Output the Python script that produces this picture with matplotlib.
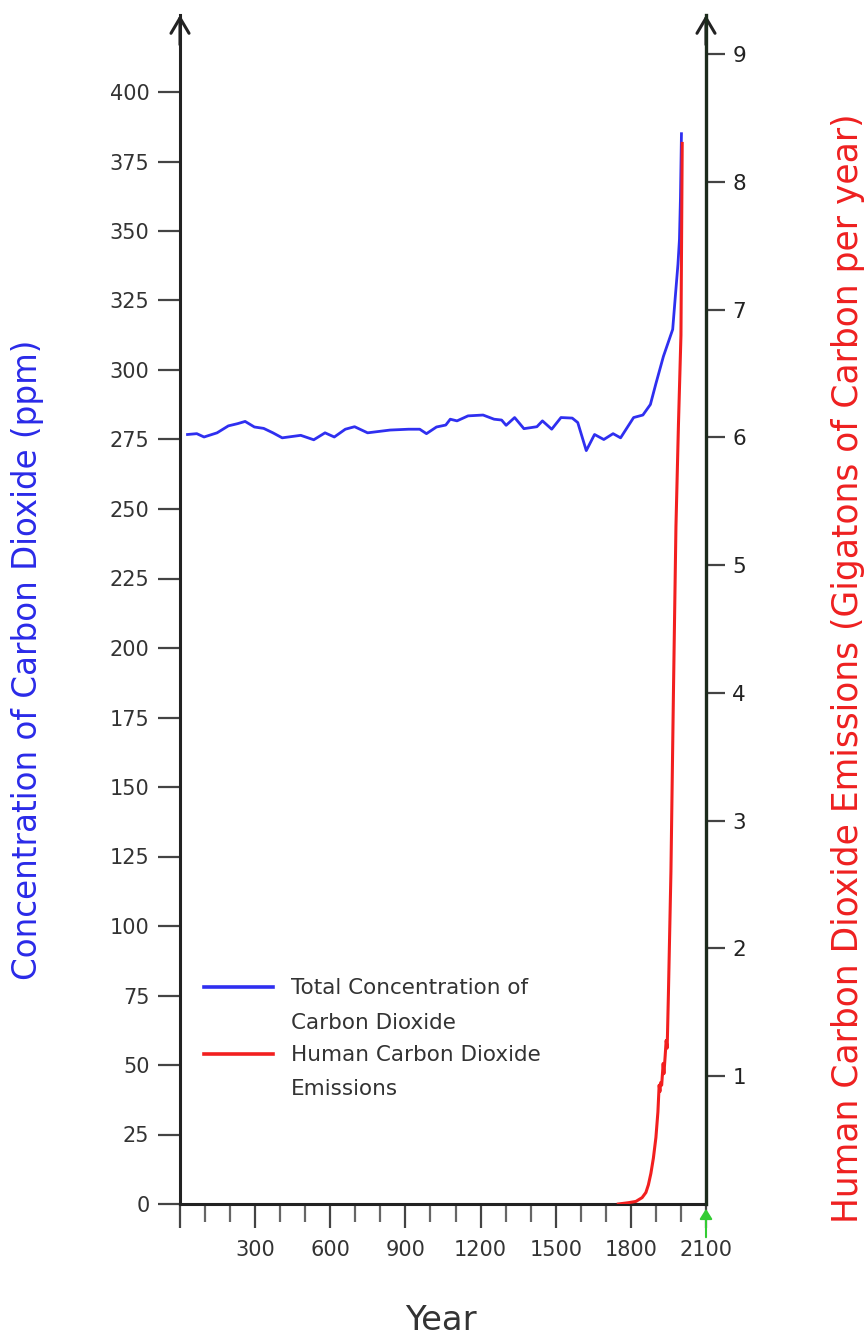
import matplotlib
matplotlib.use("Agg")
import numpy as np
import matplotlib.pyplot as plt
from matplotlib.ticker import MultipleLocator, FixedLocator
from matplotlib.legend_handler import HandlerLine2D

# ---------------- data ----------------
co2_years = [30, 67, 96, 148, 193, 230, 260, 297, 334, 371, 408, 482, 534, 579, 616,
             660, 697, 749, 839, 913, 957, 984, 1024, 1061, 1079, 1106, 1150, 1210,
             1254, 1284, 1302, 1336, 1373, 1425, 1447, 1484, 1521, 1566, 1588, 1622,
             1655, 1692, 1729, 1759, 1811, 1848, 1878, 1900, 1930, 1967, 1978, 1988,
             1994, 1998, 2002]
co2_ppm = [276.8, 277.1, 275.9, 277.4, 279.9, 280.7, 281.5, 279.5, 279.0, 277.4, 275.6,
           276.5, 274.9, 277.4, 275.9, 278.7, 279.6, 277.4, 278.4, 278.7, 278.7, 277.1,
           279.5, 280.2, 282.3, 281.7, 283.5, 283.8, 282.3, 282.0, 280.1, 282.9, 278.9,
           279.6, 281.7, 278.7, 282.9, 282.7, 281.1, 271.0, 276.8, 275.0, 277.1, 275.6,
           282.9, 283.8, 287.6, 295.1, 304.9, 314.6, 327.0, 338.0, 347.0, 362.0, 385.0]

em_years = [1750, 1790, 1820, 1845, 1860, 1870, 1880, 1890, 1900, 1908, 1913, 1916,
            1919, 1923, 1929, 1932, 1937, 1941, 1945, 1950, 1960, 1970, 1980, 1990,
            2000, 2005]
em_gtc = [0.0, 0.01, 0.02, 0.05, 0.09, 0.15, 0.24, 0.36, 0.52, 0.72, 0.93, 0.88,
          0.95, 0.93, 1.10, 1.02, 1.16, 1.28, 1.22, 1.65, 2.60, 4.00, 5.30, 6.10,
          6.80, 8.30]

x_major = [0, 300, 600, 900, 1200, 1500, 1800, 2100]
x_labels = ["", "300", "600", "900", "1200", "1500", "1800", "2100"]
left_ticks = list(range(0, 401, 25))
right_ticks = [1, 2, 3, 4, 5, 6, 7, 8, 9]

label_left = "Concentration of Carbon Dioxide (ppm)"
label_right = "Human Carbon Dioxide Emissions (Gigatons of Carbon per year)"
label_x = "Year"
legend_labels = ["Total Concentration of\nCarbon Dioxide",
                 "Human Carbon Dioxide\nEmissions"]

# ---------------- figure ----------------
W, H = 865, 1337
DPI = 100
fig = plt.figure(figsize=(W / DPI, H / DPI), dpi=DPI)
fig.patch.set_facecolor("white")

ax_l, ax_r = 180, 706
ax_b, ax_t = 1204, 15
ax = fig.add_axes([ax_l / W, (H - ax_b) / H, (ax_r - ax_l) / W, (ax_b - ax_t) / H])
ax.set_facecolor("none")

px_per_ppm = (1204 - 92) / 400.0
ax.set_ylim(0, (ax_b - ax_t) / px_per_ppm)
ax.set_xlim(0, 2100)

axis_col = "#222222"
tick_col = "#444444"
txt_col = "#333333"
blue = "#2f2ff0"
red = "#f21f1f"

for s in ["top", "right"]:
    ax.spines[s].set_visible(False)
for s in ["left", "bottom"]:
    ax.spines[s].set_color(axis_col)
    ax.spines[s].set_linewidth(2.2)

ax.yaxis.set_major_locator(FixedLocator(left_ticks))
ax.tick_params(axis="y", direction="out", length=16, width=1.6, color=tick_col,
               labelsize=15, labelcolor=txt_col, pad=6)
ax.xaxis.set_major_locator(FixedLocator(x_major))
ax.set_xticklabels(x_labels)
ax.xaxis.set_minor_locator(MultipleLocator(100))
ax.tick_params(axis="x", which="major", direction="out", length=17, width=1.6,
               color=tick_col, labelsize=15, labelcolor=txt_col, pad=9)
ax.tick_params(axis="x", which="minor", direction="out", length=13, width=1.6,
               color="#666666")

(l1,) = ax.plot(co2_years, co2_ppm, color=blue, lw=2.0, solid_joinstyle="round")

# right axis
axr = ax.twinx()
axr.set_facecolor("none")
px_per_unit = (1204 - 54) / 9.0
axr.set_ylim(0, (ax_b - ax_t) / px_per_unit)
for s in ["top", "left", "bottom"]:
    axr.spines[s].set_visible(False)
axr.spines["right"].set_color("#1c2b1c")
axr.spines["right"].set_linewidth(2.4)
axr.yaxis.set_major_locator(FixedLocator(right_ticks))
axr.tick_params(axis="y", direction="out", length=14, width=1.6, color=tick_col,
                labelsize=15.5, labelcolor="#222222", pad=5)
(l2,) = axr.plot(em_years, em_gtc, color=red, lw=2.2, solid_joinstyle="round")

# arrowheads on y axes
for xf in (0.0, 1.0):
    ax.annotate("", xy=(xf, 1.0), xycoords="axes fraction",
                xytext=(xf, 0.975), textcoords="axes fraction",
                arrowprops=dict(arrowstyle="->,head_length=1.1,head_width=0.65",
                                lw=2.2, color=axis_col, shrinkA=0, shrinkB=0),
                annotation_clip=False)

# small green marker at right end of x axis
fig.add_artist(matplotlib.patches.FancyArrowPatch(
    (ax_r / W, (H - 1240) / H), (ax_r / W, (H - 1206) / H),
    transform=fig.transFigure, arrowstyle="-|>,head_length=4,head_width=2.5",
    color="#33cc33", lw=1.5, mutation_scale=1.5))

# labels
tl = fig.text(28 / W, (H - 660) / H, label_left, rotation=90, color="#2a2ae8",
              ha="center", va="center", fontsize=20)
tr = fig.text(848 / W, (H - 668) / H, label_right, rotation=90, color="#ee2020",
              ha="center", va="center", fontsize=20)
tx = fig.text(441 / W, (H - 1320) / H, label_x, color=txt_col, ha="center",
              va="center", fontsize=22)


class TopLineHandler(HandlerLine2D):
    """Legend line aligned with the first text line of a two-line label."""
    shift_pt = 13.5

    def create_artists(self, legend, orig_handle, xdescent, ydescent, width,
                       height, fontsize, trans):
        arts = super().create_artists(legend, orig_handle, xdescent, ydescent,
                                      width, height, fontsize, trans)
        for a in arts:
            a.set_ydata(np.asarray(a.get_ydata(), dtype=float) + self.shift_pt)
        return arts


leg = ax.legend([l1, l2], legend_labels, loc="upper left",
                bbox_to_anchor=(204 / W, (H - 978) / H),
                bbox_transform=fig.transFigure, frameon=False, fontsize=15.5,
                handlelength=3.2, handletextpad=0.85, labelspacing=0.55,
                borderaxespad=0, borderpad=0,
                handler_map={l1: TopLineHandler(), l2: TopLineHandler()})
for t in leg.get_texts():
    t.set_color(txt_col)
    t.set_linespacing(1.92)
for h in leg.legend_handles:
    h.set_linewidth(2.6)

# fit label sizes to reference lengths
fig.canvas.draw()
r = fig.canvas.get_renderer()

def fit(t, target, vertical):
    for _ in range(3):
        bb = t.get_window_extent(r)
        cur = bb.height if vertical else bb.width
        t.set_fontsize(t.get_fontsize() * target / cur)
        fig.canvas.draw()

fit(tl, 640, True)
fit(tr, 1110, True)
fit(tx, 72, False)

fig.savefig("out.png", dpi=DPI, facecolor="white")
